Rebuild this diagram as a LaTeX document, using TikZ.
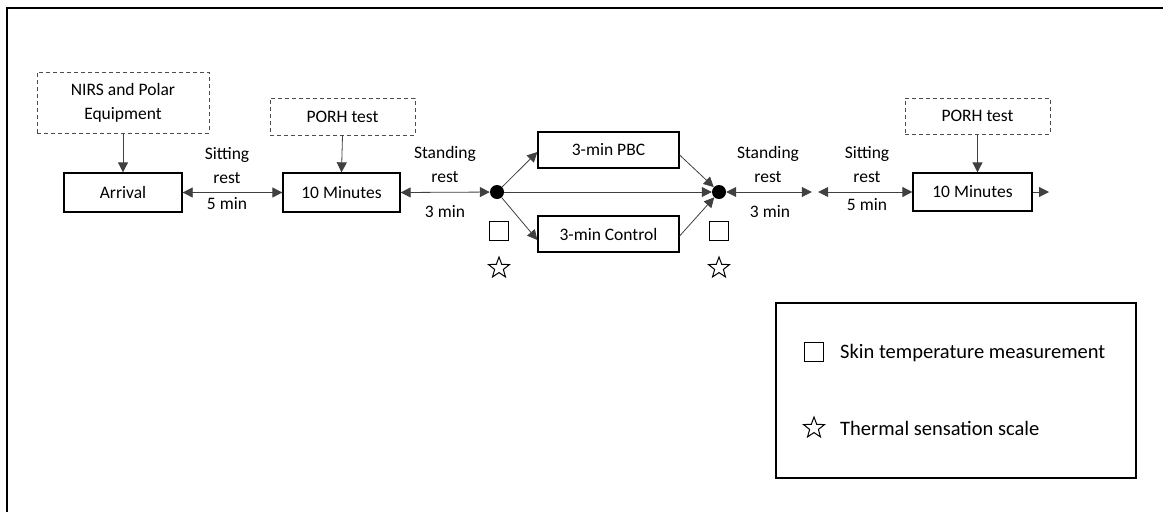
\documentclass[tikz,border=0pt]{standalone}
\usepackage{fontspec}
\setmainfont{Carlito}
\usetikzlibrary{arrows.meta,shapes.geometric}
\begin{document}
\begin{tikzpicture}[x=1pt,y=-1pt,
  txt/.style={font=\fontsize{17.5}{24}\selectfont, inner sep=0pt},
  ltxt/.style={font=\fontsize{20.5}{24}\selectfont, inner sep=0pt, anchor=west},
  box/.style={draw=black, line width=1.3pt, inner sep=0pt, font=\fontsize{17.5}{24}\selectfont},
  dbox/.style={draw=black!70, dashed, dash pattern=on 4pt off 3pt, line width=1pt, inner sep=0pt, align=center, font=\fontsize{17.5}{24}\selectfont},
  tip/.tip={Triangle[length=10pt,width=10pt]},
  arr/.style={-tip, draw=black!75, line width=0.8pt},
  darr/.style={tip-tip, draw=black!75, line width=0.8pt},
  dot/.style={circle, fill=black, inner sep=0pt, minimum size=14pt},
  sq/.style={draw=black, line width=1.2pt, minimum width=19pt, minimum height=19pt, inner sep=0pt},
  st/.style={star, star points=5, star point ratio=2.4, draw=black, line width=1pt, minimum size=22pt, inner sep=0pt},
  frame/.style={draw=black, line width=1.5pt}
]
\useasboundingbox (0,0) rectangle (1163,512);
\draw[frame] (7,512) -- (7,8) -- (1163,8);

% nodes
\node[dbox, minimum width=172pt, minimum height=61pt] (nirs) at (123,102.5) {NIRS and Polar\\Equipment};
\node[box, minimum width=118pt, minimum height=39pt] (arrival) at (123,192.5) {Arrival};
\node[dbox, minimum width=145pt, minimum height=37pt] (porh1) at (342.5,116.5) {PORH test};
\node[box, minimum width=117pt, minimum height=39pt] (min1) at (341.5,192.5) {10 Minutes};
\node[dot] (dot1) at (497,192) {};
\node[box, minimum width=141pt, minimum height=36pt] (pbc) at (608.5,150) {3-min PBC};
\node[box, minimum width=141pt, minimum height=36pt] (ctrl) at (608.5,234) {3-min Control};
\node[dot] (dot2) at (719,192) {};
\node[inner sep=3pt] (c1) at (815,192) {};
\node[box, minimum width=119pt, minimum height=38pt] (min2) at (972.5,192) {10 Minutes};
\node[dbox, minimum width=145pt, minimum height=36pt] (porh2) at (977.5,116) {PORH test};
\coordinate (end) at (1049,192);

% markers
\node[sq] (sq1) at (499,231) {};
\node[sq] (sq2) at (719,231) {};
\node[st] (st1) at (499,268) {};
\node[st] (st2) at (719,268) {};

% labels
\node[txt, align=center] (l1a) at (227,165.5) {Sitting\\rest};
\node[txt] (l1b) at (227,204) {5 min};
\node[txt, align=center] (l2a) at (445,164.5) {Standing\\rest};
\node[txt] (l2b) at (445,212) {3 min};
\node[txt, align=center] (l3a) at (768,164.5) {Standing\\rest};
\node[txt] (l3b) at (770,212) {3 min};
\node[txt, align=center] (l4a) at (867,164.5) {Sitting\\rest};
\node[txt] (l4b) at (867,205) {5 min};

% connectors
\draw[arr] (nirs.south) -- (arrival.north);
\draw[arr] (porh1.south) -- (min1.north);
\draw[arr] (porh2.south) -- (porh2.south |- min2.north);
\draw[darr] (arrival.east) -- (min1.west);
\draw[darr] (min1.east) -- (dot1);
\draw[arr] (dot1) -- ([yshift=-2pt]pbc.west);
\draw[arr] (dot1) -- ([yshift=-6pt]ctrl.west);
\draw[arr] (dot1) -- (dot2);
\draw[arr] ([yshift=-5pt]pbc.east) -- (dot2);
\draw[arr] ([yshift=-2pt]ctrl.east) -- (dot2);
\draw[darr] (dot2) -- (c1);
\draw[darr] (c1) -- (min2.west);
\draw[arr] (min2.east) -- (end);

% legend
\node[draw=black, line width=1.3pt, minimum width=360pt, minimum height=175pt, inner sep=0pt] (legend) at (956,390.5) {};
\node[sq] (lsq) at (814,352) {};
\node[ltxt] (ltxt1) at (840,353) {Skin temperature measurement};
\node[st] (lst) at (814,428) {};
\node[ltxt] (ltxt2) at (840,428) {Thermal sensation scale};
\end{tikzpicture}
\end{document}
